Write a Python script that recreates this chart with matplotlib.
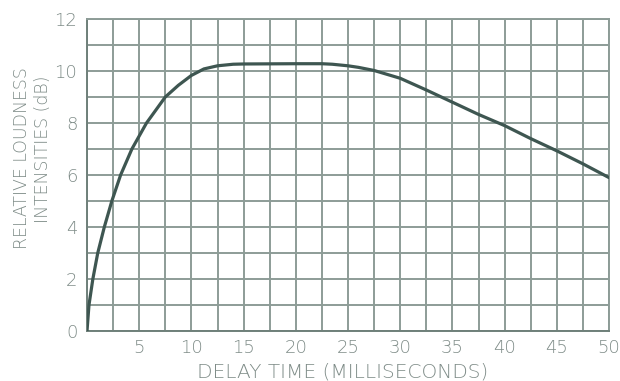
import matplotlib
matplotlib.use("Agg")
import matplotlib.pyplot as plt
import numpy as np

# Data
delay_ms = [0, 0.19, 0.56, 1.03, 1.66, 2.38, 3.22, 4.3, 5.7, 7.5, 8.75, 10, 11.2, 12.5, 14,
            15, 20, 22.5, 23.5, 25, 26, 27.5, 30, 32.5, 35, 37.5, 40, 42.5, 45, 47.5, 50]
loudness_db = [0.0, 1.0, 2.0, 3.0, 4.0, 5.0, 6.0, 7.0, 8.0, 9.0, 9.45, 9.83, 10.08, 10.2, 10.26,
               10.27, 10.28, 10.28, 10.26, 10.2, 10.14, 10.02, 9.72, 9.27, 8.8, 8.33, 7.9,
               7.4, 6.93, 6.43, 5.9]
x_ticks = [5, 10, 15, 20, 25, 30, 35, 40, 45, 50]
y_ticks = [0, 2, 4, 6, 8, 10, 12]

grid_c = "#8d9c97"
text_c = "#7f8c88"
curve_c = "#3e5651"

fig = plt.figure(figsize=(6.2, 3.81), dpi=100)
ax = fig.add_axes([87/620, 1-331/381, (609-87)/620, (331-19)/381])
ax.set_xlim(0, 50)
ax.set_ylim(0, 12)

for gx in np.arange(0, 50.01, 2.5):
    ax.axvline(gx, color=grid_c, lw=1.4, zorder=1)
for gy in np.arange(0, 12.01, 1):
    ax.axhline(gy, color=grid_c, lw=1.4, zorder=1)

ax.plot(delay_ms, loudness_db, color=curve_c, lw=2.3, zorder=3,
        solid_capstyle='round', solid_joinstyle='round')

for s in ax.spines.values():
    s.set_color(grid_c)
    s.set_linewidth(1.4)
ax.spines['left'].set_color("#6f807a")
ax.spines['bottom'].set_color("#6f807a")

ax.set_xticks(x_ticks)
ax.set_yticks(y_ticks)
ax.tick_params(length=0, labelsize=13, colors=text_c)
ax.tick_params(axis='x', pad=6)
ax.tick_params(axis='y', pad=7)
for lab in ax.get_xticklabels() + ax.get_yticklabels():
    lab.set_fontfamily("DejaVu Sans")
    lab.set_fontweight("light")

fig.text(343/620, 1-372/381, "DELAY TIME (MILLISECONDS)", ha='center', va='center',
         fontsize=14.5, color=text_c, fontweight='light')
fig.text(22/620, 1-158/381, "RELATIVE LOUDNESS", ha='center', va='center', rotation=90,
         fontsize=12.5, color=text_c, fontweight='light')
fig.text(43/620, 1-149/381, "INTENSITIES (dB)", ha='center', va='center', rotation=90,
         fontsize=12.5, color=text_c, fontweight='light')

fig.savefig("out.png", dpi=100)
